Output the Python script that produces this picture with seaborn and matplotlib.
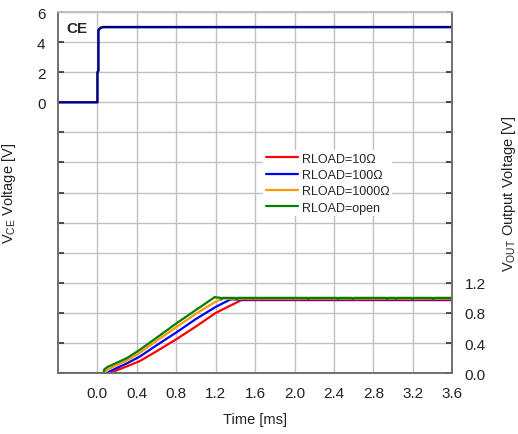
import numpy as np
import pandas as pd
import matplotlib
matplotlib.use("Agg")
import matplotlib.pyplot as plt
import seaborn as sns

# CE 입력 신호
t_ce = [-0.4, 0.0, 0.0, 0.01, 0.01, 0.03, 0.06, 3.6]
v_ce = [0.0, 0.0, 2.0, 2.1, 4.8, 4.95, 5.0, 5.0]

# 출력 전압 (부하별)
t_10 = [-0.4, 0.14, 0.2, 0.3, 0.43, 0.6, 0.8, 1.0, 1.2, 1.46, 1.5, 3.6]
v_10 = [0.0, 0.0, 0.04, 0.09, 0.16, 0.29, 0.45, 0.62, 0.8, 0.97, 0.97, 0.97]

t_100 = [-0.4, 0.1, 0.12, 0.2, 0.3, 0.43, 0.6, 0.8, 1.0, 1.2, 1.35, 3.6]
v_100 = [0.0, 0.0, 0.02, 0.07, 0.13, 0.22, 0.37, 0.54, 0.72, 0.88, 0.98, 0.98]

t_1000 = [-0.4, 0.08, 0.09, 0.2, 0.3, 0.43, 0.6, 0.8, 1.0, 1.2, 1.27, 3.6]
v_1000 = [0.0, 0.0, 0.04, 0.11, 0.17, 0.27, 0.43, 0.61, 0.79, 0.95, 0.99, 0.99]

t_open = [-0.4, 0.06, 0.07, 0.1, 0.2, 0.3, 0.43, 0.6, 0.8, 1.0, 1.19, 1.25, 1.26, 1.27,
          1.4, 1.41, 1.42, 2.13, 2.14, 2.15, 2.43, 2.44, 2.45, 2.58, 2.59, 2.6,
          2.93, 2.94, 2.95, 3.02, 3.03, 3.04, 3.19, 3.2, 3.21, 3.4, 3.41, 3.42, 3.6]
v_open = [0.0, 0.0, 0.05, 0.08, 0.14, 0.2, 0.31, 0.47, 0.66, 0.84, 1.01, 1.0, 0.98, 1.0,
          1.0, 0.98, 1.0, 1.0, 0.98, 1.0, 1.0, 0.98, 1.0, 1.0, 0.98, 1.0,
          1.0, 0.98, 1.0, 1.0, 0.98, 1.0, 1.0, 0.98, 1.0, 1.0, 0.98, 1.0, 1.0]

series = [
    ("RLOAD=10Ω", t_10, v_10, "#ff0000"),
    ("RLOAD=100Ω", t_100, v_100, "#0000ff"),
    ("RLOAD=1000Ω", t_1000, v_1000, "#ff9900"),
    ("RLOAD=open", t_open, v_open, "#008000"),
]

x_ticks = [0.0, 0.4, 0.8, 1.2, 1.6, 2.0, 2.4, 2.8, 3.2, 3.6]

sns.set_style("white")
plt.rcParams['font.family'] = ['Liberation Sans', 'DejaVu Sans']

fig = plt.figure(figsize=(5.18, 4.35), dpi=100)
ax = fig.add_axes([0.112, 0.140, 0.761, 0.830])
ax2 = ax.twinx()

sns.lineplot(x=t_ce, y=v_ce, ax=ax, color="#000080", lw=1.8,
             estimator=None, sort=False)

for name, t, v, c in series:
    sns.lineplot(x=t, y=v, ax=ax2, color=c, lw=1.6, label=name,
                 estimator=None, sort=False)

ax.set_xlim(-0.4, 3.6)
ax.set_ylim(-18, 6)
ax2.set_ylim(0, 4.8)

left_ticks = list(range(-18, 7, 2))
ax.set_yticks(left_ticks)
ax.set_yticklabels([str(v) if v >= 0 else "" for v in left_ticks])
right_ticks = [i * 0.4 for i in range(13)]
ax2.set_yticks(right_ticks)
ax2.set_yticklabels([f"{v:.1f}" if v < 1.3 else "" for v in right_ticks])
ax.set_xticks(x_ticks)
ax.set_xticklabels([f"{v:.1f}" for v in x_ticks])

ax.grid(True, color="#c0c0c0", lw=1.0)
ax.set_axisbelow(True)

for a in (ax, ax2):
    a.tick_params(direction="in", length=4, width=1.2, color="#333333",
                  labelsize=11, labelcolor="#222222", pad=9)
    for s in a.spines.values():
        s.set_color("#707070")
        s.set_linewidth(1.2)
    a.spines["top"].set_color("#c0c0c0")

ax.set_xlabel("Time [ms]", fontsize=10.5, color="#222222", labelpad=9)
ax.set_ylabel("V$_\\mathregular{CE}$ Voltage [V]", fontsize=10.5, color="#222222", labelpad=14)
ax2.set_ylabel("V$_\\mathregular{OUT}$ Output Voltage [V]", fontsize=10.5, color="#222222",
               rotation=90, labelpad=10)

ax.text(0.02, 0.975, "CE", transform=ax.transAxes, fontsize=11, fontweight="bold",
        va="top", ha="left")

leg = ax2.legend(loc="upper left", bbox_to_anchor=(0.505, 0.635), frameon=True,
                 fontsize=9, handlelength=2.6, handletextpad=0.3, labelspacing=0.35,
                 borderpad=0.2, fancybox=False)
leg.get_frame().set_facecolor("white")
leg.get_frame().set_edgecolor("none")
leg.get_frame().set_alpha(1.0)

fig.savefig("out.png", dpi=100)
